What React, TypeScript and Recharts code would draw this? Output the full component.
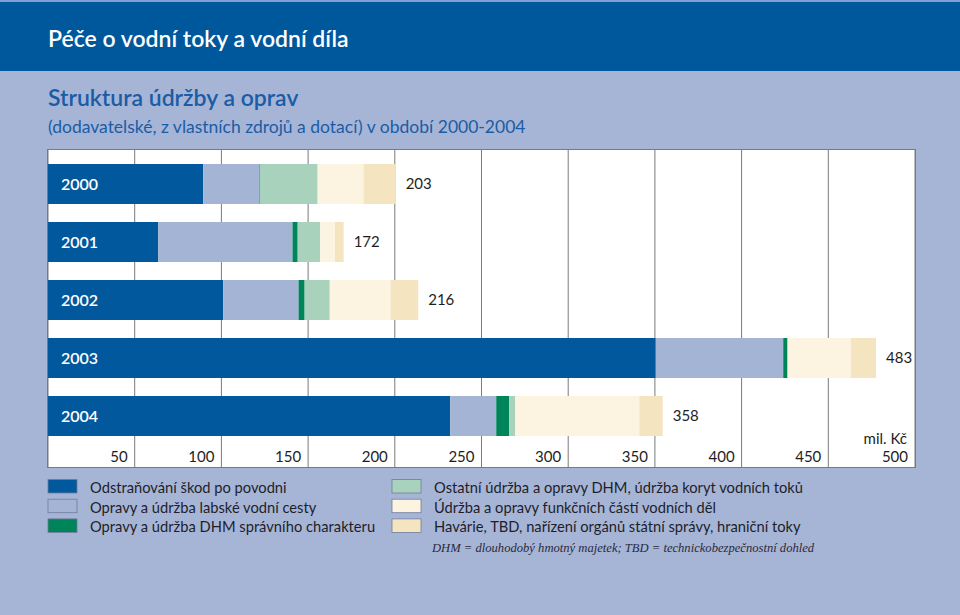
import React from 'react'
import { BarChart, Bar, XAxis, YAxis, CartesianGrid, LabelList } from 'recharts'

// values in mil. Kč
const years = ['2000', '2001', '2002', '2003', '2004']
const floodDamage = [89.5, 63.5, 101, 350.5, 232]
const elbeWaterway = [32.5, 77.5, 43.5, 73.5, 26.5]
const dhmAdmin = [0.5, 3, 3.5, 2.5, 7.5]
const otherDhm = [33, 13, 14.5, 0, 3.5]
const waterWorks = [26.5, 8.5, 35, 36.5, 71.5]
const accidents = [18.5, 5, 16, 14.5, 13.5]
// printed totals
const totals = [203, 172, 216, 483, 358]
const xTicks = [50, 100, 150, 200, 250, 300, 350, 400, 450, 500]

const series = [
  { key: 'floodDamage', name: 'Odstraňování škod po povodni', color: '#02589c' },
  { key: 'elbeWaterway', name: 'Opravy a údržba labské vodní cesty', color: '#a3b4d4' },
  { key: 'dhmAdmin', name: 'Opravy a údržba DHM správního charakteru', color: '#00845a' },
  { key: 'otherDhm', name: 'Ostatní údržba a opravy DHM, údržba koryt vodních toků', color: '#a9d2bd' },
  { key: 'waterWorks', name: 'Údržba a opravy funkčních částí vodních děl', color: '#fdf3e1' },
  { key: 'accidents', name: 'Havárie, TBD, nařízení orgánů státní správy, hraniční toky', color: '#f5e4c0' },
]

const data = years.map((year, i) => ({
  year,
  floodDamage: floodDamage[i],
  elbeWaterway: elbeWaterway[i],
  dhmAdmin: dhmAdmin[i],
  otherDhm: otherDhm[i],
  waterWorks: waterWorks[i],
  accidents: accidents[i],
  total: totals[i],
}))

const FONT = 'Lato, "Open Sans", sans-serif'

function XTick(props: any) {
  const { x, y, payload } = props
  return (
    <g>
      {payload.value === 500 && (
        <text x={x - 8} y={y - 23} textAnchor="end" fontSize={15} fill="#1e1e1e" fontFamily={FONT}>
          mil. Kč
        </text>
      )}
      <text x={x - 7} y={y - 5} textAnchor="end" fontSize={15} fill="#1e1e1e" fontFamily={FONT}>
        {payload.value}
      </text>
    </g>
  )
}

export default function App() {
  return (
    <div
      style={{
        position: 'absolute',
        left: 0,
        top: 0,
        width: 960,
        height: 615,
        background: '#a6b5d6',
        overflow: 'hidden',
        fontFamily: FONT,
      }}
    >
      {/* header band */}
      <div style={{ position: 'absolute', left: 0, top: 0, width: 960, height: 2, background: '#7ea3d2' }} />
      <div style={{ position: 'absolute', left: 0, top: 2, width: 960, height: 69, background: '#00589c' }} />

      {/* plot box */}
      <div
        style={{
          position: 'absolute',
          left: 47,
          top: 149,
          width: 867,
          height: 317,
          background: '#ffffff',
          border: '1px solid #7a7a7a',
        }}
      />

      <div style={{ position: 'absolute', left: 0, top: 0 }}>
        <BarChart
          width={960}
          height={500}
          data={data}
          layout="vertical"
          margin={{ top: 150, right: 45, bottom: 13, left: 48 }}
          barCategoryGap={9}
        >
          <CartesianGrid horizontal={false} stroke="#7a7a7a" strokeWidth={1} />
          <XAxis
            type="number"
            domain={[0, 500]}
            ticks={xTicks}
            height={20}
            axisLine={false}
            tickLine={false}
            tickSize={0}
            tickMargin={0}
            tick={(p: any) => <XTick {...p} />}
            interval={0}
          />
          <YAxis type="category" dataKey="year" hide padding={{ top: 5, bottom: 22 }} />
          {series.map((s, i) => (
            <Bar key={s.key} dataKey={s.key} stackId="a" fill={s.color} isAnimationActive={false}>
              {i === 0 && (
                <LabelList
                  dataKey="year"
                  position="insideLeft"
                  offset={13}
                  fill="#ffffff"
                  fontSize={16}
                  fontWeight={600}
                  fontFamily={FONT}
                />
              )}
              {i === series.length - 1 && (
                <LabelList
                  dataKey="total"
                  position="right"
                  offset={10}
                  fill="#1e1e1e"
                  fontSize={15}
                  fontFamily={FONT}
                />
              )}
            </Bar>
          ))}
        </BarChart>
      </div>

      {/* titles, legend and footnote */}
      <svg width={960} height={615} style={{ position: 'absolute', left: 0, top: 0, pointerEvents: 'none' }}>
        <text x={48} y={47} fontSize={23} fontWeight={600} fill="#ffffff" fontFamily={FONT}>
          Péče o vodní toky a vodní díla
        </text>
        <text x={48} y={106} fontSize={23} fontWeight={600} fill="#1a5ca6" fontFamily={FONT}>
          Struktura údržby a oprav
        </text>
        <text x={48} y={133} fontSize={17.5} fill="#1a5ca6" fontFamily={FONT}>
          (dodavatelské, z vlastních zdrojů a dotací) v období 2000-2004
        </text>

        {series.map((s, i) => {
          const col = Math.floor(i / 3)
          const row = i % 3
          const sx = col === 0 ? 48 : 392
          const ty = 493 + row * 19.7
          return (
            <g key={s.key}>
              <rect x={sx} y={ty - 13.5} width={29} height={13.5} fill={s.color} stroke="#6f7d9c" strokeWidth={0.8} />
              <text x={sx + 42} y={ty} fontSize={14.7} fill="#1e1e2a" fontFamily={FONT}>
                {s.name}
              </text>
            </g>
          )
        })}

        <text
          x={432}
          y={552}
          fontSize={12.6}
          fontStyle="italic"
          fill="#2a2a3a"
          fontFamily='"Liberation Serif", "DejaVu Serif", serif'
        >
          DHM = dlouhodobý hmotný majetek; TBD = technickobezpečnostní dohled
        </text>
      </svg>
    </div>
  )
}
